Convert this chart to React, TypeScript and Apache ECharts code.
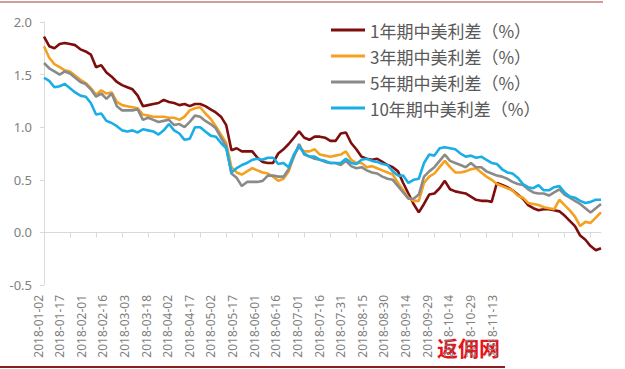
import React, { useEffect, useRef } from "react";
import * as echarts from "echarts";

const dates = [
  "2018-01-02","2018-01-05","2018-01-08","2018-01-11","2018-01-14","2018-01-17","2018-01-20","2018-01-23","2018-01-26","2018-01-29",
  "2018-02-01","2018-02-04","2018-02-07","2018-02-10","2018-02-13","2018-02-16","2018-02-19","2018-02-22","2018-02-25","2018-02-28",
  "2018-03-03","2018-03-06","2018-03-09","2018-03-12","2018-03-15","2018-03-18","2018-03-21","2018-03-24","2018-03-27","2018-03-30",
  "2018-04-02","2018-04-05","2018-04-08","2018-04-11","2018-04-14","2018-04-17","2018-04-20","2018-04-23","2018-04-26","2018-04-29",
  "2018-05-02","2018-05-05","2018-05-08","2018-05-11","2018-05-14","2018-05-17","2018-05-20","2018-05-23","2018-05-26","2018-05-29",
  "2018-06-01","2018-06-04","2018-06-07","2018-06-10","2018-06-13","2018-06-16","2018-06-19","2018-06-22","2018-06-25","2018-06-28",
  "2018-07-01","2018-07-04","2018-07-07","2018-07-10","2018-07-13","2018-07-16","2018-07-19","2018-07-22","2018-07-25","2018-07-28","2018-07-31",
  "2018-08-03","2018-08-06","2018-08-09","2018-08-12","2018-08-15","2018-08-18","2018-08-21","2018-08-24","2018-08-27","2018-08-30",
  "2018-09-02","2018-09-05","2018-09-08","2018-09-11","2018-09-14","2018-09-17","2018-09-20","2018-09-23","2018-09-26","2018-09-29",
  "2018-10-02","2018-10-05","2018-10-08","2018-10-11","2018-10-14","2018-10-17","2018-10-20","2018-10-23","2018-10-26","2018-10-29",
  "2018-11-01","2018-11-04","2018-11-07","2018-11-10","2018-11-13","2018-11-16","2018-11-19",
];

const tickLabels = [
  "2018-01-02","2018-01-17","2018-02-01","2018-02-16","2018-03-03","2018-03-18","2018-04-02","2018-04-17",
  "2018-05-02","2018-05-17","2018-06-01","2018-06-16","2018-07-01","2018-07-16","2018-07-31","2018-08-15",
  "2018-08-30","2018-09-14","2018-09-29","2018-10-14","2018-10-29","2018-11-13",
];

const seriesNames = ["1年期中美利差（%）", "3年期中美利差（%）", "5年期中美利差（%）", "10年期中美利差（%）"];
const seriesColors = ["#7e0d0d", "#f5a01e", "#8a8a8a", "#1aaee6"];

const spread1Y = [
  1.86,1.77,1.75,1.79,1.80,1.79,1.78,1.74,1.72,1.69,
  1.57,1.59,1.52,1.48,1.43,1.40,1.38,1.36,1.30,1.20,
  1.21,1.22,1.23,1.26,1.24,1.23,1.21,1.22,1.20,1.22,
  1.22,1.20,1.17,1.14,1.10,1.02,0.78,0.80,0.77,0.77,
  0.77,0.71,0.67,0.66,0.66,0.75,0.79,0.84,0.90,0.96,
  0.90,0.88,0.91,0.91,0.90,0.87,0.87,0.94,0.95,0.85,
  0.79,0.72,0.70,0.69,0.70,0.67,0.64,0.62,0.58,0.47,0.37,
  0.27,0.19,0.27,0.36,0.37,0.42,0.49,0.41,0.39,0.38,
  0.37,0.34,0.31,0.30,0.30,0.29,0.47,0.45,0.43,0.40,
  0.36,0.32,0.26,0.23,0.21,0.22,0.22,0.21,0.20,0.16,
  0.11,0.06,-0.03,-0.07,-0.13,-0.17,-0.15,
];

const spread3Y = [
  1.77,1.66,1.60,1.57,1.54,1.53,1.49,1.45,1.42,1.37,
  1.31,1.35,1.32,1.33,1.24,1.21,1.20,1.19,1.18,1.12,
  1.11,1.10,1.10,1.10,1.09,1.09,1.07,1.10,1.16,1.18,
  1.19,1.13,1.08,1.01,0.93,0.85,0.62,0.57,0.55,0.58,
  0.61,0.59,0.57,0.56,0.53,0.49,0.51,0.58,0.73,0.81,
  0.77,0.77,0.79,0.74,0.73,0.72,0.73,0.74,0.77,0.69,
  0.66,0.66,0.62,0.63,0.61,0.59,0.57,0.55,0.47,0.40,0.33,
  0.30,0.30,0.47,0.53,0.56,0.62,0.68,0.62,0.57,0.57,
  0.58,0.60,0.61,0.57,0.53,0.50,0.46,0.44,0.42,0.40,
  0.35,0.33,0.28,0.27,0.26,0.24,0.23,0.22,0.31,0.26,
  0.21,0.15,0.06,0.10,0.09,0.14,0.19,
];

const spread5Y = [
  1.61,1.56,1.53,1.50,1.53,1.51,1.47,1.43,1.41,1.36,
  1.29,1.32,1.27,1.32,1.20,1.16,1.16,1.16,1.17,1.07,
  1.09,1.07,1.05,1.06,1.07,1.02,1.03,1.00,1.05,1.11,
  1.10,1.06,1.03,0.99,0.90,0.82,0.56,0.52,0.44,0.48,
  0.48,0.48,0.49,0.54,0.54,0.53,0.53,0.60,0.72,0.84,
  0.74,0.72,0.70,0.69,0.67,0.66,0.66,0.64,0.68,0.63,
  0.61,0.62,0.59,0.57,0.56,0.53,0.51,0.50,0.44,0.38,0.32,
  0.32,0.36,0.53,0.58,0.62,0.68,0.74,0.68,0.66,0.64,
  0.62,0.66,0.62,0.62,0.58,0.56,0.54,0.53,0.51,0.48,
  0.46,0.45,0.41,0.38,0.37,0.37,0.35,0.38,0.41,0.36,
  0.33,0.30,0.27,0.23,0.19,0.23,0.27,
];

const spread10Y = [
  1.47,1.44,1.38,1.39,1.41,1.37,1.33,1.30,1.29,1.23,
  1.12,1.13,1.06,1.04,1.01,0.97,0.96,0.97,0.95,0.98,
  0.97,0.96,0.93,0.97,1.03,0.97,0.94,0.88,0.89,1.00,
  1.00,0.96,0.92,0.91,0.85,0.80,0.57,0.61,0.64,0.66,
  0.69,0.70,0.69,0.71,0.71,0.65,0.66,0.62,0.74,0.82,
  0.75,0.72,0.72,0.69,0.68,0.66,0.66,0.66,0.70,0.66,
  0.65,0.69,0.70,0.68,0.67,0.65,0.64,0.58,0.54,0.54,0.47,
  0.50,0.51,0.66,0.74,0.73,0.80,0.81,0.80,0.79,0.75,
  0.72,0.73,0.71,0.72,0.69,0.66,0.65,0.60,0.57,0.56,
  0.52,0.46,0.43,0.42,0.45,0.40,0.40,0.43,0.44,0.38,
  0.34,0.33,0.30,0.28,0.29,0.31,0.31,
];

const allSeries = [spread1Y, spread3Y, spread5Y, spread10Y];

export default function App() {
  const ref = useRef<HTMLDivElement>(null);

  useEffect(() => {
    if (!ref.current) return;
    const chart = echarts.init(ref.current, null, { renderer: "svg" });
    const axisGray = "#d9d9d9";
    chart.setOption({
      animation: false,
      backgroundColor: "#ffffff",
      legend: {
        orient: "vertical",
        left: 326,
        top: 16,
        itemWidth: 34,
        itemHeight: 3,
        itemGap: 8,
        icon: "rect",
        data: seriesNames,
        textStyle: {
          fontFamily: "'Noto Sans CJK SC', 'Noto Sans', sans-serif",
          fontSize: 17,
          color: "#595959",
          lineHeight: 18,
        },
      },
      grid: [
        { left: 44, top: 22, right: 24, bottom: 84, containLabel: false },
        { left: 38, top: 22, width: 454, bottom: 84, containLabel: false },
      ],
      xAxis: [
        {
          type: "category",
          gridIndex: 0,
          data: dates,
          boundaryGap: false,
          axisLine: { onZero: true, lineStyle: { color: axisGray, width: 1 } },
          axisTick: { show: true, interval: 4, length: 5, lineStyle: { color: axisGray } },
          axisLabel: { show: false },
          splitLine: { show: false },
        },
        {
          type: "category",
          gridIndex: 1,
          data: tickLabels,
          boundaryGap: false,
          position: "bottom",
          axisLine: { show: false, onZero: false },
          axisTick: { show: false },
          axisLabel: {
            show: true,
            interval: 0,
            rotate: 90,
            margin: 10,
            fontFamily: "'Noto Sans', sans-serif",
            fontSize: 12,
            color: "#7f7f7f",
          },
          splitLine: { show: false },
        },
      ],
      yAxis: [
        {
          type: "value",
          gridIndex: 0,
          min: -0.5,
          max: 2.0,
          interval: 0.5,
          axisLine: { show: true, lineStyle: { color: axisGray, width: 1 } },
          axisTick: { show: true, length: 4, lineStyle: { color: axisGray } },
          axisLabel: {
            margin: 12,
            fontFamily: "'Noto Sans', sans-serif",
            fontSize: 13,
            color: "#808080",
            formatter: (v: number) => v.toFixed(1),
          },
          splitLine: { show: false },
        },
        {
          type: "value",
          gridIndex: 1,
          min: -0.5,
          max: 2.0,
          show: false,
        },
      ],
      series: allSeries.map((arr, i) => ({
        name: seriesNames[i],
        type: "line",
        xAxisIndex: 0,
        yAxisIndex: 0,
        data: arr,
        showSymbol: false,
        symbol: "none",
        lineStyle: { color: seriesColors[i], width: 2.6 },
        itemStyle: { color: seriesColors[i] },
      })),
      graphic: [
        { type: "line", shape: { x1: 0, y1: 2, x2: 603, y2: 2 }, style: { stroke: "#c77b7b", lineWidth: 1.5 } },
        { type: "rect", shape: { x: 418, y: 329, width: 207, height: 37 }, style: { fill: "#ffffff" } },
        { type: "line", shape: { x1: 0, y1: 367, x2: 505, y2: 367 }, style: { stroke: "#8b1e1e", lineWidth: 2 } },
        {
          type: "text",
          x: 437,
          y: 336,
          style: {
            text: "返佣网",
            fill: "#e8141c",
            font: "bold 21px 'Noto Sans CJK SC', sans-serif",
          },
        },
      ],
    });
    return () => chart.dispose();
  }, []);

  return (
    <div
      ref={ref}
      style={{ position: "fixed", left: 0, top: 0, width: 625, height: 369, background: "#fff" }}
    />
  );
}
